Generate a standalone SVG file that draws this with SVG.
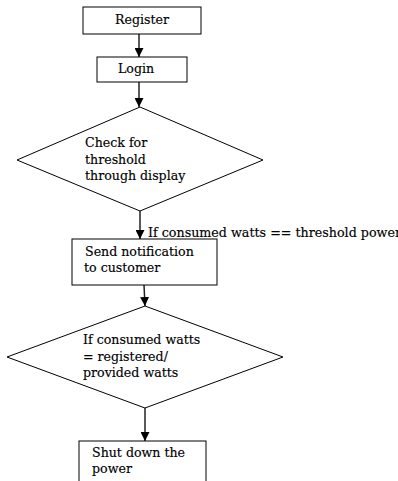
<svg xmlns="http://www.w3.org/2000/svg" width="398" height="481" viewBox="0 0 398 481">
<defs>
<marker id="arr" markerUnits="userSpaceOnUse" markerWidth="9" markerHeight="9" refX="9" refY="4.5" orient="auto">
<path d="M0,0 L9,4.5 L0,9 z" fill="#000"/>
</marker>
<style>
.box{fill:#fff;stroke:#000;stroke-width:1}
.t{font-family:"DejaVu Serif","Liberation Serif",serif;font-size:12.6px;fill:#000;stroke:#000;stroke-width:0.15}
.c{stroke:#222;stroke-width:1.5;fill:none;marker-end:url(#arr)}
</style>
</defs>
<rect width="398" height="481" fill="#fff"/>
<g id="connectors">
<line class="c" x1="139" y1="34" x2="139" y2="57"/>
<line class="c" x1="139" y1="82" x2="139" y2="107"/>
<line class="c" x1="140" y1="211" x2="140" y2="239"/>
<line class="c" x1="144" y1="285" x2="145" y2="306"/>
<line class="c" x1="145" y1="408" x2="145" y2="441"/>
<text class="t" x="148" y="237" textLength="253" lengthAdjust="spacingAndGlyphs">If consumed watts == threshold power</text>
</g>
<g id="register">
<rect class="box" x="83" y="7" width="118" height="27"/>
<text class="t" x="115" y="24">Register</text>
</g>
<g id="login">
<rect class="box" x="97" y="57" width="90" height="25"/>
<text class="t" x="118" y="73">Login</text>
</g>
<g id="check">
<polygon class="box" points="140,107 263,160 140,211 17,160"/>
<text class="t" x="85" y="147">Check for</text>
<text class="t" x="85" y="164">threshold</text>
<text class="t" x="85" y="180">through display</text>
</g>
<g id="notify">
<rect class="box" x="72" y="239" width="145" height="46"/>
<text class="t" x="85" y="256">Send notification</text>
<text class="t" x="84" y="272">to customer</text>
</g>
<g id="compare">
<polygon class="box" points="145,306 283,357 145,408 7,357"/>
<text class="t" x="83" y="344">If consumed watts</text>
<text class="t" x="83" y="361">= registered/</text>
<text class="t" x="83" y="377">provided watts</text>
</g>
<g id="shutdown">
<rect class="box" x="79" y="441" width="127" height="50"/>
<text class="t" x="92" y="457">Shut down the</text>
<text class="t" x="92" y="473">power</text>
</g>
</svg>
